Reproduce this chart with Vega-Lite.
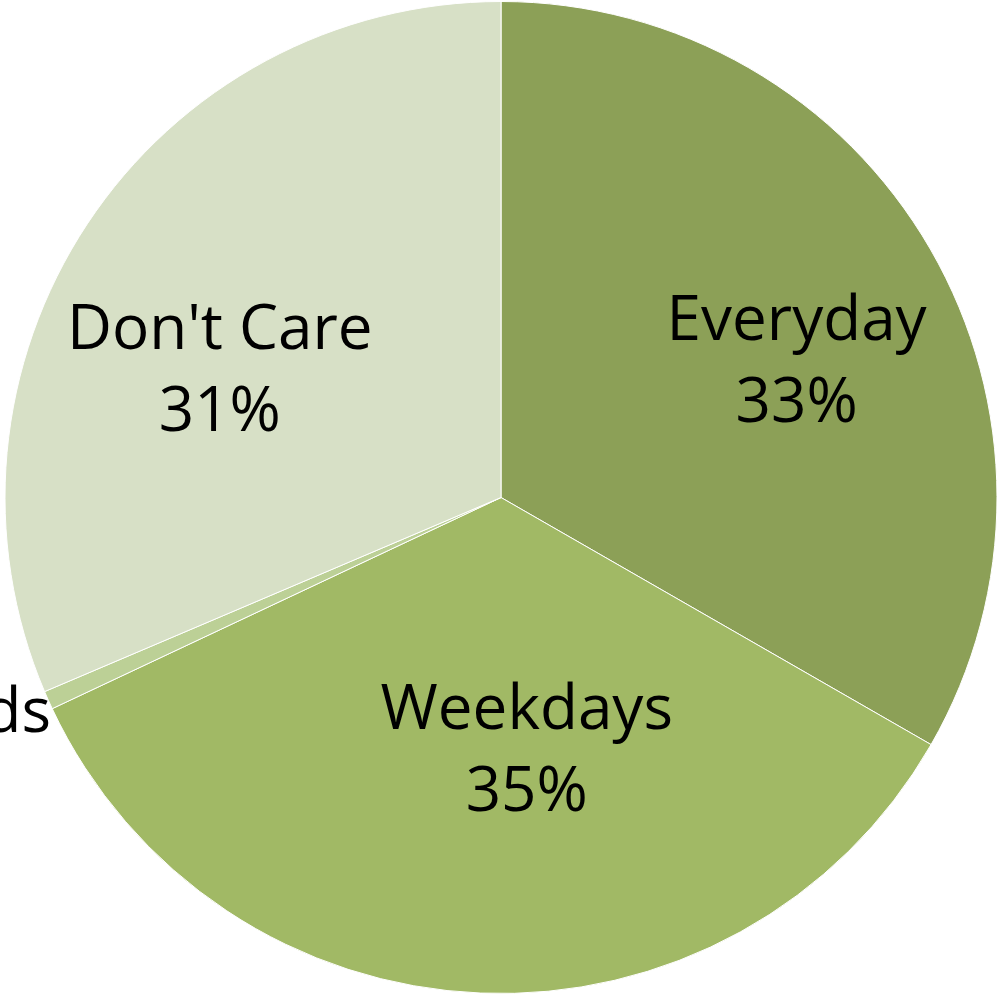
{
  "$schema": "https://vega.github.io/schema/vega-lite/v6.json",
  "autosize": "none",
  "width": 992,
  "height": 995,
  "padding": {"left": 5, "right": 0, "top": 0, "bottom": 0},
  "background": "white",
  "view": {"stroke": null},
  "data": {
    "values": [
      {"cat": "Everyday", "value": 33.3, "idx": 1, "label": "Everyday\n33%"},
      {"cat": "Weekdays", "value": 34.7, "idx": 2, "label": "Weekdays\n35%"},
      {"cat": "Weekends", "value": 0.6, "idx": 3, "label": "Weekends\n1%"},
      {"cat": "Don't Care", "value": 31.4, "idx": 4, "label": "Don't Care\n31%"}
    ]
  },
  "encoding": {
    "theta": {"field": "value", "type": "quantitative", "stack": true},
    "order": {"field": "idx", "type": "quantitative"}
  },
  "layer": [
    {
      "mark": {"type": "arc", "outerRadius": 496, "stroke": "white", "strokeWidth": 1},
      "encoding": {
        "color": {
          "field": "cat",
          "type": "nominal",
          "scale": {
            "domain": ["Everyday", "Weekdays", "Weekends", "Don't Care"],
            "range": ["#8CA057", "#A1B965", "#BCD096", "#D7E0C6"]
          },
          "legend": null
        }
      }
    },
    {
      "mark": {"type": "text", "radius": 300, "dx": 36, "dy": -26, "font": "Open Sans", "fontSize": 62, "lineBreak": "\n", "lineHeight": 82, "color": "black", "baseline": "middle", "align": "center"},
      "encoding": {"text": {"condition": {"test": "datum.cat === 'Everyday'", "field": "label"}, "value": ""}}
    },
    {
      "mark": {"type": "text", "radius": 300, "dx": 38, "dy": -87, "font": "Open Sans", "fontSize": 62, "lineBreak": "\n", "lineHeight": 82, "color": "black", "baseline": "middle", "align": "center"},
      "encoding": {"text": {"condition": {"test": "datum.cat === 'Weekdays'", "field": "label"}, "value": ""}}
    },
    {
      "mark": {"type": "text", "radius": 300, "dx": -326, "dy": 93, "font": "Open Sans", "fontSize": 62, "lineBreak": "\n", "lineHeight": 82, "color": "black", "baseline": "middle", "align": "center"},
      "encoding": {"text": {"condition": {"test": "datum.cat === 'Weekends'", "field": "label"}, "value": ""}}
    },
    {
      "mark": {"type": "text", "radius": 300, "dx": -31, "dy": -2, "font": "Open Sans", "fontSize": 62, "lineBreak": "\n", "lineHeight": 82, "color": "black", "baseline": "middle", "align": "center"},
      "encoding": {"text": {"condition": {"test": "datum.cat === 'Don\\'t Care'", "field": "label"}, "value": ""}}
    }
  ]
}
